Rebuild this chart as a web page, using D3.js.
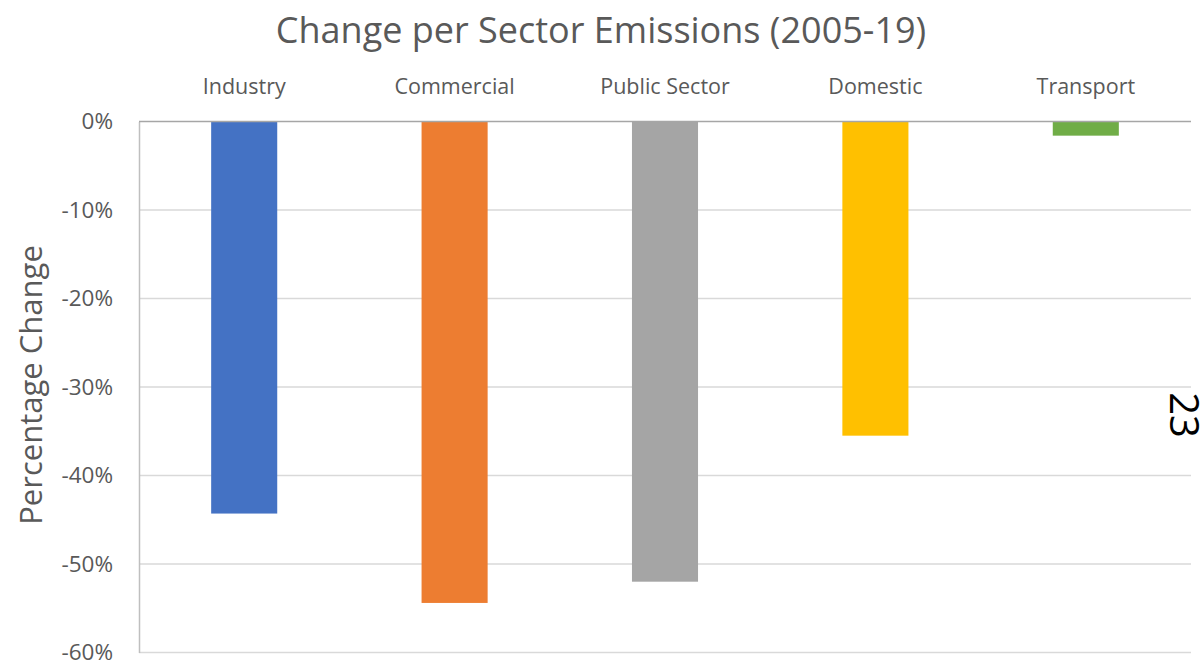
<!DOCTYPE html>
<html><head><meta charset="utf-8">
<script src="https://cdn.jsdelivr.net/npm/d3@7"></script>
<style>body{margin:0;background:#fff}svg{display:block}text{font-family:"Open Sans","Noto Sans",sans-serif}</style>
</head><body><svg id="c" width="1204" height="661"></svg>
<script>
const categories = ["Industry","Commercial","Public Sector","Domestic","Transport"];
const values = [-44.3,-54.4,-52.0,-35.5,-1.6];
const colors = ["#4472C4","#ED7D31","#A5A5A5","#FFC000","#70AD47"];
const yTicks = [0,-10,-20,-30,-40,-50,-60];
const title = "Change per Sector Emissions (2005-19)";
const yTitle = "Percentage Change";
const pageNote = "23";

const svg = d3.select("#c");
const m = {left:139, right:1191, top:121.5, bottom:652.5};
const x = d3.scaleBand().domain(categories).range([m.left,m.right]).paddingInner(0.686).paddingOuter(0.343);
const y = d3.scaleLinear().domain([0,-60]).range([m.top,m.bottom]);

// gridlines
svg.append("g").selectAll("line").data(yTicks.filter(d=>d!==0)).join("line")
  .attr("x1",m.left).attr("x2",m.right).attr("y1",d=>y(d)).attr("y2",d=>y(d))
  .attr("stroke","#d9d9d9").attr("stroke-width",1.5);

// bars
svg.append("g").selectAll("rect").data(values).join("rect")
  .attr("x",(d,i)=>x(categories[i])).attr("width",x.bandwidth())
  .attr("y",y(0)).attr("height",d=>y(d)-y(0))
  .attr("fill",(d,i)=>colors[i]);

// y axis
const yAxis = d3.axisLeft(y).tickValues(yTicks).tickFormat(d=>d+"%").tickSize(0).tickPadding(26);
const ga = svg.append("g").attr("transform",`translate(${m.left},0)`).call(yAxis);
ga.select(".domain").attr("stroke","#bfbfbf").attr("stroke-width",1.5);
ga.selectAll("text").attr("font-size",22.5).attr("fill","#595959").attr("font-family","'Open Sans',sans-serif");

// zero line
svg.append("line").attr("x1",m.left).attr("x2",m.right).attr("y1",y(0)).attr("y2",y(0))
  .attr("stroke","#a6a6a6").attr("stroke-width",1.5);

// category labels on top
const xAxis = d3.axisTop(x).tickSize(0).tickPadding(28);
const gx = svg.append("g").attr("transform",`translate(0,${m.top})`).call(xAxis);
gx.select(".domain").remove();
gx.selectAll("text").attr("font-size",21.5).attr("fill","#595959").attr("font-family","'Open Sans',sans-serif");

// title
svg.append("text").attr("x",601).attr("y",43).attr("text-anchor","middle")
  .attr("font-size",36).attr("fill","#595959").text(title);

// y title
svg.append("text").attr("transform","translate(42,385) rotate(-90)").attr("text-anchor","middle")
  .attr("font-size",31).attr("fill","#595959").text(yTitle);

// page number
svg.append("text").attr("transform","translate(1170,415) rotate(90)").attr("text-anchor","middle")
  .attr("font-size",40).attr("fill","#000").attr("font-family","'Liberation Sans',sans-serif").text(pageNote);
</script></body></html>
